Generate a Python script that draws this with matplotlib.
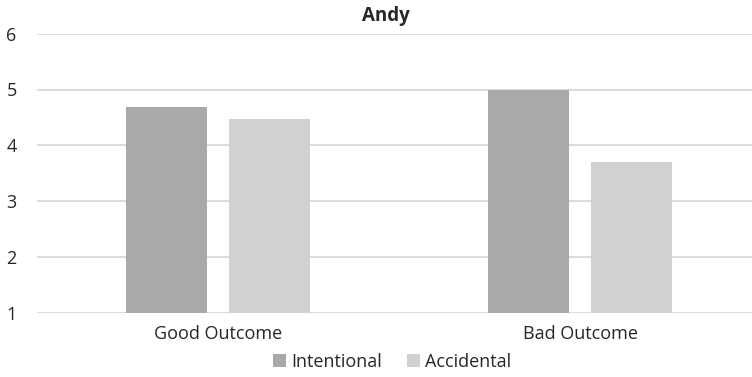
import matplotlib.pyplot as plt
import numpy as np

# Données
categories = ['Good Outcome', 'Bad Outcome']
series = ['Intentional', 'Accidental']
intentional = [4.69, 5.0]
accidental = [4.48, 3.70]
couleurs = ['#a9a9a9', '#d0d1d0']

plt.rcParams['font.family'] = ['Open Sans', 'DejaVu Sans']

fig = plt.figure(figsize=(7.52, 3.77), dpi=100)
ax = fig.add_axes([37/752, 1 - 312.7/377, 715/752, (312.7 - 33.7)/377])

x = np.arange(len(categories))
largeur = 0.224
decalage = 0.142
ax.bar(x - decalage, intentional, largeur, bottom=0, color=couleurs[0], label=series[0], zorder=3)
ax.bar(x + decalage, accidental, largeur, bottom=0, color=couleurs[1], label=series[1], zorder=3)

ax.set_ylim(1, 6)
ax.set_xlim(-0.5, 1.475)
ax.set_yticks(range(1, 7))
ax.set_xticks(x)
ax.set_xticklabels(categories)
ax.grid(axis='y', color='#d9d9d9', linewidth=1.3, zorder=0)
for s in ax.spines.values():
    s.set_visible(False)
ax.tick_params(axis='both', length=0, labelsize=13, colors='#262626')
ax.tick_params(axis='y', pad=22)
ax.tick_params(axis='x', pad=9)
for lab in ax.get_yticklabels():
    lab.set_horizontalalignment('left')

fig.text(386/752, 1 - 16/377, 'Andy', ha='center', va='center',
         fontsize=13.5, fontweight='bold', color='#262626')

fig.legend(loc='center', bbox_to_anchor=(392/752, 1 - 362/377), ncol=2, frameon=False,
           fontsize=13, handlelength=0.7, handleheight=0.7, handletextpad=0.3,
           columnspacing=1.4, labelcolor='#262626')

fig.savefig('out.png', dpi=100)
